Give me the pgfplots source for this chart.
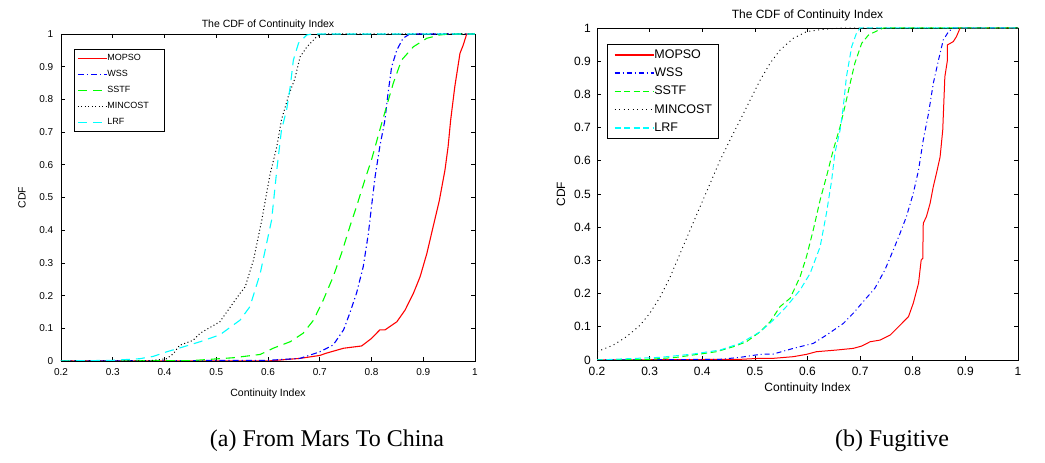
\documentclass[border=0pt]{standalone}
\usepackage{fontspec}
\setmainfont{Liberation Sans}
\newfontfamily\capfont{Liberation Serif}
\usepackage{pgfplots}
\pgfplotsset{compat=1.18}
\definecolor{mgreen}{rgb}{0,1,0}
\definecolor{mcyan}{rgb}{0,1,1}
\definecolor{mred}{rgb}{1,0,0}
\definecolor{mblue}{rgb}{0,0,1}
\begin{document}
\begin{tikzpicture}
\useasboundingbox (0pt,0pt) rectangle (1045pt,463pt);
\pgfplotsset{
  cdfbase/.style={
    scale only axis,
    xmin=0.2, xmax=1, ymin=0, ymax=1,
    xtick={0.2,0.3,0.4,0.5,0.6,0.7,0.8,0.9,1},
    ytick={0,0.1,0.2,0.3,0.4,0.5,0.6,0.7,0.8,0.9,1},
    tick align=inside,
    major tick length=4pt,
    /pgf/number format/assume math mode=true,
    axis line style={line width=0.8pt, black},
    every tick/.style={black, line width=0.6pt},
    legend cell align=left,
  },
}
% ---------------- Left: (a) From Mars To China
\begin{axis}[cdfbase,
  at={(61pt,102pt)}, anchor=south west,
  width=414pt, height=327pt,
  font=\fontsize{10}{12}\selectfont,
  ticklabel style={font=\fontsize{10}{12}\selectfont},
  xticklabel style={anchor=base, yshift=-14.5pt},
  yticklabel style={anchor=east, inner sep=0pt, xshift=-7.5pt},
  title={The CDF of Continuity Index},
  title style={at={(axis description cs:0.5,1.003)}, anchor=base, yshift=0pt, font=\fontsize{10.5}{12}\selectfont},
  xlabel={Continuity Index},
  xlabel style={at={(axis description cs:0.5,-0.11)}, anchor=base, font=\fontsize{10.5}{12}\selectfont},
  ylabel={CDF},
  ylabel style={at={(axis description cs:-0.094,0.5)}, anchor=center, font=\fontsize{10.5}{12}\selectfont},
  legend image code/.code={\draw[#1] (0pt,0pt) -- (29pt,0pt);},
  legend style={at={(axis description cs:0,1)}, anchor=north west, xshift=13pt, yshift=-15pt,
    font=\fontsize{9}{10}\selectfont, draw=black, line width=0.6pt,
    inner xsep=3pt, inner ysep=5pt, row sep=8pt,
    nodes={inner sep=0pt, text height=6.5pt, text depth=1.5pt},
    /tikz/every even column/.append style={column sep=3pt}},
]
\addplot[mred, line width=1.1pt] coordinates {
(0.2,0) (0.6,0) (0.662,0.008) (0.7,0.017) (0.713,0.024) (0.746,0.039) (0.781,0.046) (0.8,0.069) (0.816,0.095) (0.826,0.095) (0.849,0.12) (0.865,0.156) (0.881,0.207) (0.894,0.258) (0.907,0.329) (0.919,0.41) (0.931,0.49) (0.942,0.584) (0.948,0.655) (0.953,0.737) (0.961,0.839) (0.971,0.941) (0.977,0.965) (0.984,1) (1,1)};
\addlegendentry{\makebox[54pt][l]{MOPSO}}
\addplot[mblue, line width=1.1pt, dash pattern=on 6pt off 3pt on 1.2pt off 3pt] coordinates {
(0.2,0) (0.6,0.002) (0.662,0.008) (0.7,0.028) (0.726,0.049) (0.746,0.095) (0.758,0.146) (0.771,0.207) (0.784,0.288) (0.794,0.39) (0.8,0.472) (0.807,0.564) (0.816,0.655) (0.826,0.737) (0.832,0.819) (0.839,0.9) (0.849,0.951) (0.861,0.987) (0.874,1) (1,1)};
\addlegendentry{\makebox[54pt][l]{WSS}}
\addplot[mgreen, line width=1.1pt, dash pattern=on 9pt off 6pt] coordinates {
(0.2,0) (0.45,0.001) (0.469,0.003) (0.533,0.01) (0.585,0.02) (0.61,0.039) (0.643,0.059) (0.668,0.085) (0.688,0.125) (0.707,0.187) (0.726,0.258) (0.742,0.329) (0.758,0.41) (0.771,0.472) (0.787,0.553) (0.8,0.615) (0.816,0.706) (0.829,0.778) (0.842,0.849) (0.858,0.92) (0.881,0.961) (0.907,0.987) (0.932,0.997) (0.95,1) (1,1)};
\addlegendentry{\makebox[54pt][l]{SSTF}}
\addplot[black, line width=1pt, dash pattern=on 1pt off 2.5pt] coordinates {
(0.2,0) (0.36,0) (0.378,0.002) (0.404,0.007) (0.417,0.022) (0.429,0.048) (0.455,0.063) (0.469,0.085) (0.507,0.12) (0.546,0.207) (0.556,0.227) (0.572,0.309) (0.588,0.431) (0.604,0.571) (0.617,0.655) (0.626,0.737) (0.639,0.808) (0.652,0.864) (0.662,0.93) (0.675,0.96) (0.694,0.992) (0.705,1) (1,1)};
\addlegendentry{\makebox[54pt][l]{MINCOST}}
\addplot[mcyan, line width=1.1pt, dash pattern=on 9pt off 6pt] coordinates {
(0.2,0) (0.3,0.002) (0.352,0.007) (0.378,0.014) (0.404,0.028) (0.436,0.043) (0.469,0.059) (0.507,0.08) (0.546,0.125) (0.565,0.166) (0.585,0.268) (0.596,0.35) (0.607,0.431) (0.617,0.584) (0.626,0.706) (0.636,0.768) (0.643,0.839) (0.649,0.92) (0.659,0.972) (0.675,0.997) (0.685,1) (1,1)};
\addlegendentry{\makebox[54pt][l]{LRF}}
\end{axis}
% ---------------- Right: (b) Fugitive
\begin{axis}[cdfbase,
  at={(597pt,103pt)}, anchor=south west,
  width=421pt, height=332pt,
  font=\fontsize{12}{14}\selectfont,
  ticklabel style={font=\fontsize{12}{14}\selectfont},
  xticklabel style={anchor=base, yshift=-15.3pt},
  yticklabel style={anchor=east, inner sep=0pt, xshift=-6pt},
  title={The CDF of Continuity Index},
  title style={at={(axis description cs:0.5,1.011)}, anchor=base, yshift=0pt, font=\fontsize{12}{14}\selectfont},
  xlabel={Continuity Index},
  xlabel style={at={(axis description cs:0.5,-0.095)}, anchor=base, font=\fontsize{12}{14}\selectfont},
  ylabel={CDF},
  ylabel style={at={(axis description cs:-0.0855,0.5)}, anchor=center, font=\fontsize{12}{14}\selectfont},
  legend image code/.code={\draw[#1, line width=1.5pt] (0pt,0pt) -- (39pt,0pt);},
  legend style={at={(axis description cs:0,1)}, anchor=north west, xshift=10pt, yshift=-16pt,
    font=\fontsize{12.5}{14}\selectfont, draw=black, line width=0.8pt,
    inner xsep=6.5pt, inner ysep=5pt, row sep=7.25pt,
    nodes={inner sep=0pt, text height=9pt, text depth=2pt},
    /tikz/every even column/.append style={column sep=3.5pt}},
]
\addplot[mred, line width=1pt] coordinates {
(0.2,0) (0.472,0.002) (0.51,0.005) (0.535,0.005) (0.573,0.01) (0.598,0.017) (0.617,0.025) (0.655,0.03) (0.687,0.035) (0.703,0.042) (0.719,0.055) (0.738,0.06) (0.757,0.075) (0.776,0.105) (0.792,0.131) (0.801,0.171) (0.811,0.231) (0.816,0.301) (0.819,0.306) (0.82,0.412) (0.826,0.432) (0.833,0.472) (0.839,0.522) (0.845,0.562) (0.852,0.612) (0.857,0.693) (0.859,0.773) (0.861,0.853) (0.866,0.904) (0.866,0.949) (0.877,0.959) (0.883,0.974) (0.89,1) (1,1)};
\addlegendentry{MOPSO}
\addplot[mblue, line width=1pt, dash pattern=on 5pt off 3pt on 1pt off 3pt] coordinates {
(0.2,0) (0.434,0.002) (0.472,0.008) (0.51,0.017) (0.535,0.018) (0.573,0.035) (0.611,0.05) (0.636,0.075) (0.668,0.11) (0.687,0.141) (0.706,0.176) (0.728,0.216) (0.747,0.271) (0.763,0.331) (0.776,0.382) (0.788,0.432) (0.801,0.502) (0.811,0.572) (0.82,0.663) (0.83,0.743) (0.839,0.833) (0.849,0.904) (0.858,0.964) (0.868,0.989) (0.877,1) (1,1)};
\addlegendentry{WSS}
\addplot[mgreen, line width=1pt, dash pattern=on 6pt off 3.5pt] coordinates {
(0.2,0) (0.3,0.002) (0.351,0.008) (0.396,0.018) (0.427,0.025) (0.459,0.04) (0.484,0.055) (0.51,0.085) (0.529,0.115) (0.548,0.161) (0.567,0.186) (0.586,0.251) (0.598,0.311) (0.611,0.392) (0.624,0.482) (0.636,0.552) (0.649,0.633) (0.662,0.703) (0.671,0.763) (0.681,0.833) (0.69,0.894) (0.703,0.954) (0.716,0.979) (0.738,0.996) (0.745,1) (1,1)};
\addlegendentry{SSTF}
\addplot[black, line width=0.9pt, dash pattern=on 1pt off 3.5pt] coordinates {
(0.2,0.025) (0.231,0.045) (0.256,0.07) (0.282,0.105) (0.3,0.14) (0.32,0.19) (0.339,0.25) (0.358,0.321) (0.377,0.392) (0.396,0.462) (0.415,0.532) (0.434,0.602) (0.453,0.663) (0.472,0.723) (0.491,0.783) (0.51,0.843) (0.529,0.894) (0.548,0.934) (0.573,0.969) (0.598,0.989) (0.63,0.996) (0.668,1) (1,1)};
\addlegendentry{MINCOST}
\addplot[mcyan, line width=1pt, dash pattern=on 6pt off 3.5pt] coordinates {
(0.2,0) (0.32,0.008) (0.383,0.018) (0.434,0.03) (0.472,0.05) (0.51,0.085) (0.535,0.12) (0.56,0.161) (0.586,0.211) (0.605,0.261) (0.624,0.341) (0.636,0.442) (0.646,0.542) (0.652,0.623) (0.662,0.693) (0.668,0.763) (0.674,0.853) (0.684,0.944) (0.693,0.984) (0.7,1) (1,1)};
\addlegendentry{LRF}
\end{axis}
\node[font=\capfont\fontsize{24}{28}\selectfont, anchor=base] at (327pt,16pt) {(a) From Mars To China};
\node[font=\capfont\fontsize{24}{28}\selectfont, anchor=base] at (892pt,16pt) {(b) Fugitive};
\end{tikzpicture}
\end{document}
